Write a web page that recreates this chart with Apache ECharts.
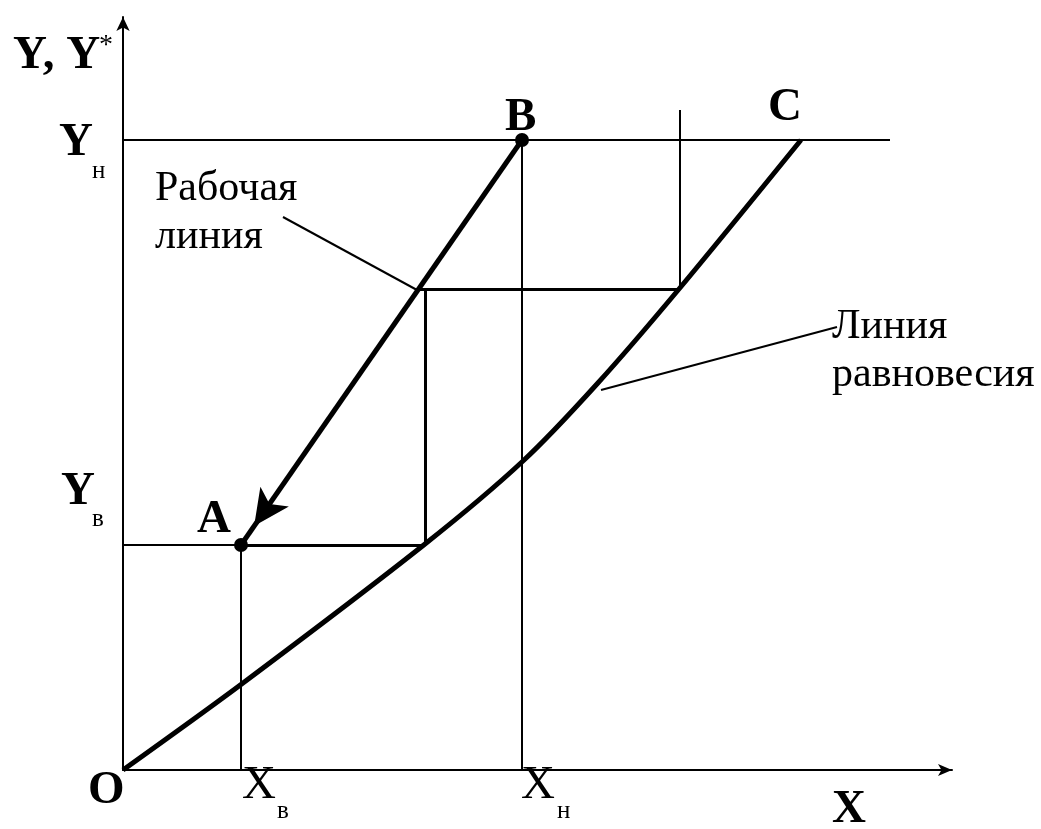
<!DOCTYPE html>
<html>
<head>
<meta charset="utf-8">
<script src="https://cdn.jsdelivr.net/npm/echarts@6/dist/echarts.min.js"></script>
<style>html,body{margin:0;padding:0;background:#fff}#chart{width:1041px;height:829px}</style>
</head>
<body>
<div id="chart"></div>
<script>
// Equilibrium curve (X, Y*)
const eqX = [0, 120, 302, 400, 474, 556, 678];
const eqY = [0, 87, 226, 309, 386, 481, 630];
// Operating line end points
const pointA = [118, 225];
const pointB = [399, 630];
// Level values
const yH = 630, yB = 225, xH = 399, xB = 118;
const stepY = 481, stepXop = 296, stepXeq = 556, stepXv = 302, topTickY = 660, lineEndX = 767;
// Leader lines
const leaderWork = [[160, 553], [294, 480]];
const leaderEq = [[714, 443], [478, 380]];
// Texts: [x, y, text, style]
const texts = [
  [-110, 714, 'Y, Y', 'big'],
  [-24, 724, '*', 'sup'],
  [-64, 627, 'Y', 'big'],
  [-31, 599, 'н', 'sub'],
  [-62, 278, 'Y', 'big'],
  [-31, 251, 'в', 'sub'],
  [74, 250, 'A', 'big'],
  [382, 652, 'B', 'big'],
  [645, 662, 'C', 'big'],
  [-35, -21, 'O', 'big'],
  [119, -16, 'X', 'reg'],
  [154, -41, 'в', 'sub'],
  [398, -16, 'X', 'reg'],
  [434, -41, 'н', 'sub'],
  [709, -40, 'X', 'big'],
  [32, 557, 'Рабочая\nлиния', 'txt'],
  [709, 419, 'Линия\nравновесия', 'txt']
];

const FONT = "'Liberation Serif', 'Times New Roman', serif";
const textStyles = {
  big: {fontSize: 47, fontWeight: 'bold'},
  reg: {fontSize: 47, fontWeight: 'normal'},
  sub: {fontSize: 25, fontWeight: 'normal'},
  sup: {fontSize: 28, fontWeight: 'normal'},
  txt: {fontSize: 42, fontWeight: 'normal', lineHeight: 48}
};

function seg(a, b, w) {
  return {coords: [a, b], lineStyle: {width: w, color: '#000', opacity: 1}};
}
const segs = [
  seg([0, yH], [lineEndX, yH], 2),
  seg([xH, yH], [xH, 0], 2),
  seg([xB, yB], [xB, 0], 2),
  seg([0, yB], [xB, yB], 2),
  seg([stepXeq + 1, stepY], [stepXeq + 1, topTickY], 2),
  seg(leaderWork[0], leaderWork[1], 2),
  seg(leaderEq[0], leaderEq[1], 2),
  seg([stepXop, stepY], [stepXeq, stepY], 3),
  seg([stepXv, stepY], [stepXv, yB], 3),
  seg([xB, yB], [stepXv, yB], 3),
  seg(pointB, pointA, 5)
];

// arrow head at A, pointing from B towards A (axes are 1 unit per pixel)
const dx = pointA[0] - pointB[0], dy = pointA[1] - pointB[1];
const len = Math.sqrt(dx * dx + dy * dy);
const arrowLen = 36;
const arrowPos = [pointA[0] - dx / len * (arrowLen / 2 + 5), pointA[1] - dy / len * (arrowLen / 2 + 5)];
const arrowRot = Math.atan2(dy, dx) * 180 / Math.PI - 90;

const chart = echarts.init(document.getElementById('chart'));
chart.setOption({
  animation: false,
  backgroundColor: '#fff',
  grid: {left: 123, top: 17, right: 89, bottom: 59, containLabel: false},
  xAxis: {
    type: 'value', min: 0, max: 829,
    axisLine: {show: true, lineStyle: {color: '#000', width: 2}, symbol: ['none', 'arrow'], symbolSize: [9, 14]},
    axisTick: {show: false}, axisLabel: {show: false}, splitLine: {show: false}
  },
  yAxis: {
    type: 'value', min: 0, max: 753,
    axisLine: {show: true, lineStyle: {color: '#000', width: 2}, symbol: ['none', 'arrow'], symbolSize: [10, 14]},
    axisTick: {show: false}, axisLabel: {show: false}, splitLine: {show: false}
  },
  series: [
    {
      type: 'lines', coordinateSystem: 'cartesian2d', silent: true,
      lineStyle: {opacity: 1},
      data: segs
    },
    {
      type: 'line', data: eqX.map((x, i) => [x, eqY[i]]), smooth: 0.3,
      symbol: 'none', clip: false, silent: true,
      lineStyle: {color: '#000', width: 5}
    },
    {
      type: 'scatter', silent: true, clip: false,
      symbol: 'arrow', symbolSize: [26, arrowLen], symbolRotate: arrowRot,
      itemStyle: {color: '#000', opacity: 1},
      data: [arrowPos]
    },
    {
      type: 'scatter', silent: true, clip: false,
      symbolSize: 14, itemStyle: {color: '#000', opacity: 1},
      data: [pointA, pointB]
    },
    {
      type: 'scatter', silent: true, clip: false, symbolSize: 0,
      itemStyle: {opacity: 1},
      data: texts.map(t => ({
        value: [t[0], t[1]],
        label: Object.assign({
          show: true, position: 'inside', formatter: t[2], color: '#000',
          fontFamily: FONT, align: 'left', verticalAlign: 'middle'
        }, textStyles[t[3]])
      }))
    }
  ]
});
</script>
</body>
</html>
